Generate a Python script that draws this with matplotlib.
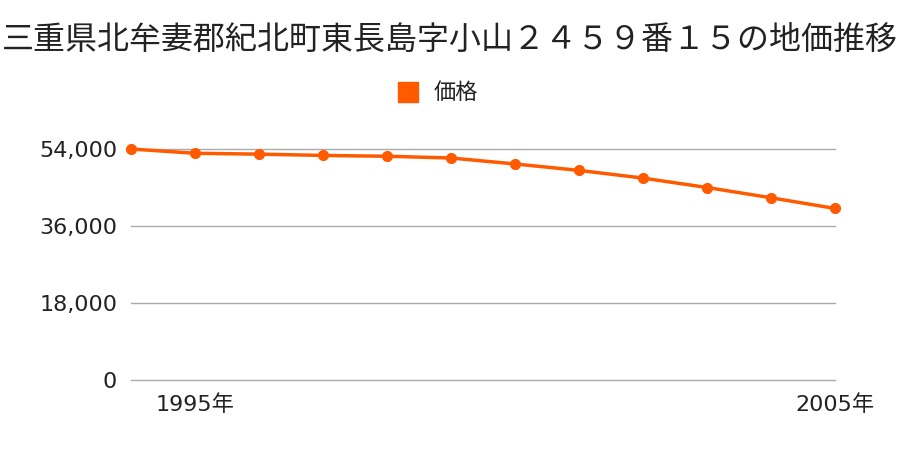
import matplotlib
matplotlib.use("Agg")
import matplotlib.pyplot as plt
from matplotlib.ticker import FuncFormatter

plt.rcParams['font.family'] = ['Noto Sans CJK JP', 'DejaVu Sans']

# land price by year (yen / m2)
years = [1994, 1995, 1996, 1997, 1998, 1999, 2000, 2001, 2002, 2003, 2004, 2005]
prices = [54000, 53000, 52800, 52500, 52300, 51900, 50500, 49000, 47200, 45000, 42600, 40100]
yticks = [0, 18000, 36000, 54000]
xticks = [1995, 2005]
xticklabels = ["1995年", "2005年"]
title = "三重県北牟妻郡紀北町東長島字小山２４５９番１５の地価推移"
series_name = "価格"
color = "#ff5a00"

fig = plt.figure(figsize=(9, 4.5), dpi=100)
ax = fig.add_axes([131/900, 1-380/450, (835-131)/900, (380-149)/450])

for t in yticks:
    ax.axhline(t, color="#aaaaaa", lw=1, clip_on=False, zorder=1)
ax.plot(years, prices, color=color, lw=2.5, marker="o", ms=7, clip_on=False, zorder=3)

ax.set_xlim(years[0], years[-1])
ax.set_ylim(0, 54000)
ax.set_yticks(yticks)
ax.yaxis.set_major_formatter(FuncFormatter(lambda v, p: f"{int(v):,}"))
ax.set_xticks(xticks)
ax.set_xticklabels(xticklabels)
ax.tick_params(axis="both", length=0, labelsize=16, colors="#222222")
ax.tick_params(axis="y", pad=10)
ax.tick_params(axis="x", pad=10)
for lab in ax.get_xticklabels() + ax.get_yticklabels():
    lab.set_family(['DejaVu Sans', 'Noto Sans CJK JP'])
for s in ax.spines.values():
    s.set_visible(False)

fig.text(0.5, 1-40/450, title, ha="center", va="center", fontsize=23, color="#222222")
fig.patches.append(plt.Rectangle((398/900, 1-102/450), 20/900, 20/450, color=color,
                                 transform=fig.transFigure, figure=fig))
fig.text(434/900, 1-92/450, series_name, ha="left", va="center", fontsize=16, color="#222222")

fig.savefig("out.png", dpi=100)
